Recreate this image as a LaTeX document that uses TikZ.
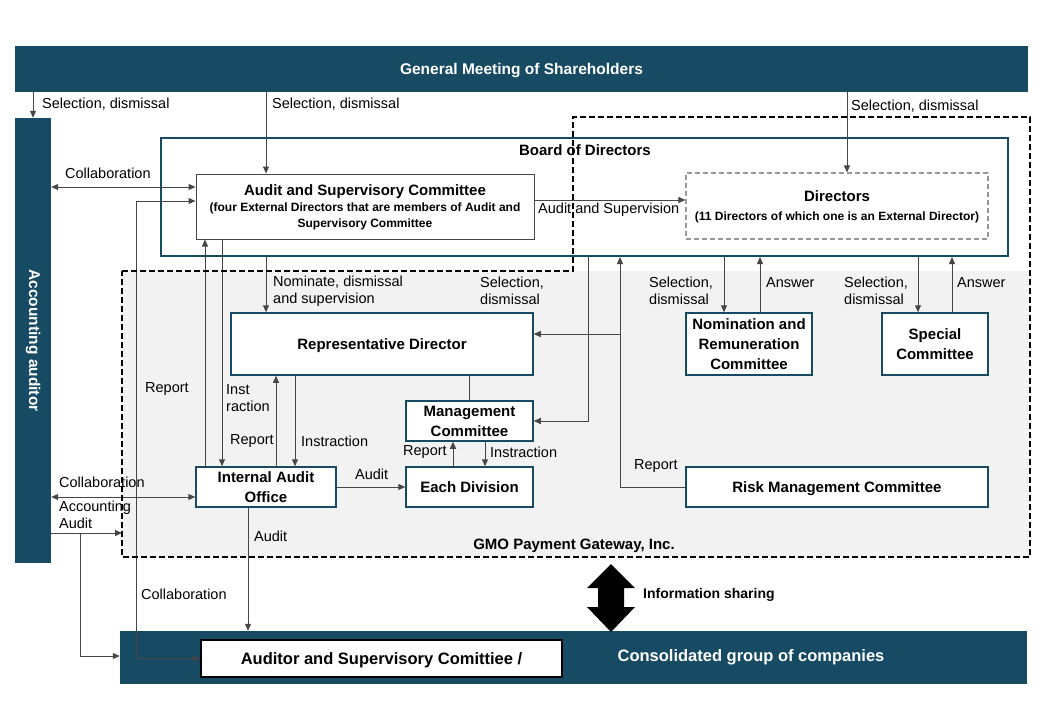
\documentclass[tikz,border=0pt]{standalone}
\usepackage{fontspec}
\setmainfont{Liberation Sans}
\usetikzlibrary{arrows.meta}

\definecolor{gmoteal}{RGB}{23,74,99}
\definecolor{gmogray}{RGB}{242,242,242}
\definecolor{linegray}{RGB}{70,70,70}

\begin{document}
\begin{tikzpicture}[x=1pt, y=-1pt,
    bar/.style = {fill=gmoteal, text=white, inner sep=0pt, text depth=0pt,
        font=\bfseries\fontsize{15.5}{18}\selectfont},
    unit/.style = {draw=gmoteal, line width=1.5pt, fill=white, align=center,
        inner sep=0pt, text depth=0pt, font=\bfseries\fontsize{15}{20}\selectfont},
    lbl/.style = {anchor=west, inner sep=0pt, align=left,
        font=\fontsize{14.5}{17}\selectfont},
    conn/.style = {draw=linegray, line width=1pt,
        -{Triangle[length=7pt,width=6pt]}},
    both/.style = {draw=linegray, line width=1pt,
        {Triangle[length=7pt,width=6pt]}-{Triangle[length=7pt,width=6pt]}}
    ]

        \useasboundingbox (0,0) rectangle (1061,716);

        % Coordinates for the connector positions.
        \coordinate (xasc) at (266,0);
        \coordinate (xdir) at (847,0);
        \coordinate (ycol) at (0,187);
        \coordinate (ylink) at (0,201);
        \coordinate (xlink) at (136,0);
        \coordinate (xrep) at (205,0);
        \coordinate (xins) at (222,0);
        \coordinate (yaud) at (0,200);
        \coordinate (xrisk) at (620,0);
        \coordinate (yrep) at (0,334);
        \coordinate (xmgmt) at (588,0);
        \coordinate (xup) at (276,0);
        \coordinate (xdown) at (295,0);
        \coordinate (xrpt) at (453,0);
        \coordinate (xord) at (485,0);
        \coordinate (xnrcdn) at (724,0);
        \coordinate (xnrcup) at (760,0);
        \coordinate (xspcdn) at (918,0);
        \coordinate (xspcup) at (952,0);
        \coordinate (ycol2) at (0,497);
        \coordinate (gmoleft) at (122,533);
        \coordinate (xacc) at (80,0);
        \coordinate (ygrp) at (0,656);
        \coordinate (xiaud) at (248,0);

        % The company area.
        \fill[gmogray] (122,271) rectangle (1030,557);

        % Bars.
        \node[bar, minimum width=1013, minimum height=46] (shareholders)
            at (521.5,69) {General Meeting of Shareholders};
        \node[fill=gmoteal, text=white, inner sep=0pt,
            font=\bfseries\fontsize{15.5}{18}\selectfont,
            minimum width=36, minimum height=445] (accounting)
            at (33,340.5) {\rotatebox{-90}{Accounting auditor}};
        \node[bar, minimum width=907, minimum height=53] (group)
            at (573.5,657.5) {};
        \node[text=white, inner sep=0pt, text depth=0pt,
            font=\bfseries\fontsize{16.5}{19}\selectfont]
            (grouptext) at (751,656) {Consolidated group of companies};
        \node[draw=black, line width=2pt, fill=white, inner sep=0pt, text depth=0pt,
            minimum width=361, minimum height=37,
            font=\bfseries\fontsize{16.5}{19}\selectfont] (groupaudit)
            at (381.5,658.5) {Auditor and Supervisory Comittiee /};

        % Board of Directors.
        \node[draw=gmoteal, line width=2pt, minimum width=847, minimum height=118]
            (board) at (584.5,197) {};
        \node[inner sep=0pt, text depth=0pt, font=\bfseries\fontsize{15}{18}\selectfont]
            (boardtitle) at (585,150) {Board of Directors};
        \node[draw=linegray, line width=1pt, fill=white, align=center, inner sep=0pt,
            text depth=0pt, minimum width=338, minimum height=65,
            font=\bfseries\fontsize{12}{16}\selectfont] (asc) at (365,206.5)
            {{\fontsize{15}{18}\selectfont Audit and Supervisory Committee}\\
             (four External Directors that are members of Audit and\\
             Supervisory Committee};
        \node[draw=black!40, line width=1.2pt, dash pattern=on 5pt off 3pt,
            fill=white, align=center, inner sep=0pt, text depth=0pt,
            minimum width=302, minimum height=66,
            font=\bfseries\fontsize{12}{19}\selectfont] (directors) at (837,206)
            {{\fontsize{15}{18}\selectfont Directors}\\
             (11 Directors of which one is an External Director)};

        % Units of the company.
        \node[unit, minimum width=302, minimum height=62] (rep) at (382,344)
            {Representative Director};
        \node[unit, minimum width=126, minimum height=62] (nrc) at (749,344)
            {Nomination and\\Remuneration\\Committee};
        \node[unit, minimum width=106, minimum height=62] (spc) at (935,344)
            {Special\\Committee};
        \node[unit, minimum width=127, minimum height=40] (mgmt) at (469.5,421)
            {Management\\Committee};
        \node[unit, minimum width=127, minimum height=40] (div) at (469.5,487)
            {Each Division};
        \node[unit, minimum width=140, minimum height=40] (iao) at (266,487)
            {Internal Audit\\Office};
        \node[unit, minimum width=302, minimum height=40] (risk) at (837,487)
            {Risk Management Committee};

        % Selection from the general meeting.
        \draw[conn] (shareholders.south -| accounting.north) -- (accounting.north);
        \draw[conn] (shareholders.south -| xasc) -- (asc.north -| xasc);
        \draw[conn] (shareholders.south -| xdir) -- (directors.north -| xdir);

        % Audit and Supervisory Committee links.
        \draw[both] (accounting.east |- ycol) -- (asc.west |- ycol);
        \draw[both] (asc.west |- ylink) -| (xlink |- groupaudit.west) -- (groupaudit.west);
        \draw[conn] (iao.north -| xrep) -- (asc.south -| xrep);
        \draw[conn] (asc.south -| xins) -- (iao.north -| xins);
        \draw[conn] (asc.east |- yaud) -- (directors.west |- yaud);

        % Board to the units.
        \draw[conn] (board.south -| xasc) -- (rep.north -| xasc);
        \draw[conn] (risk.west) -| (board.south -| xrisk);
        \draw[conn] (xrisk |- yrep) -- (rep.east |- yrep);
        \draw[conn] (board.south -| xmgmt) |- (mgmt.east);
        \draw[conn] (board.south -| xnrcdn) -- (nrc.north -| xnrcdn);
        \draw[conn] (nrc.north -| xnrcup) -- (board.south -| xnrcup);
        \draw[conn] (board.south -| xspcdn) -- (spc.north -| xspcdn);
        \draw[conn] (spc.north -| xspcup) -- (board.south -| xspcup);

        % Inside the company.
        \draw[draw=linegray, line width=1pt] (rep.south -| mgmt.north) -- (mgmt.north);
        \draw[conn] (iao.north -| xup) -- (rep.south -| xup);
        \draw[conn] (rep.south -| xdown) -- (iao.north -| xdown);
        \draw[conn] (iao.east) -- (div.west);
        \draw[conn] (div.north -| xrpt) -- (mgmt.south -| xrpt);
        \draw[conn] (mgmt.south -| xord) -- (div.north -| xord);

        % Accounting auditor and the group.
        \draw[both] (accounting.east |- ycol2) -- (iao.west |- ycol2);
        \draw[conn] (accounting.east |- gmoleft) -- (gmoleft);
        \draw[conn] (xacc |- gmoleft) |- (group.west |- ygrp);
        \draw[conn] (iao.south -| xiaud) -- (group.north -| xiaud);

        % Information sharing arrow.
        \fill[black] (611,564) -- (635,588) -- (624,588) -- (624,607) -- (635,607)
            -- (611,632) -- (587,607) -- (598,607) -- (598,588) -- (587,588) -- cycle;

        % The company outline.
        \draw[black, line width=2pt, dash pattern=on 6pt off 3pt]
            (122,271) -- (573,271) -- (573,117) -- (1030,117) -- (1030,557)
            -- (122,557) -- cycle;
        \node[inner sep=0pt, text depth=0pt, font=\bfseries\fontsize{15}{18}\selectfont]
            (gmolabel) at (574,544) {GMO Payment Gateway, Inc.};

        % Label everything.
        \node[lbl] (selacc) at (42,104) {Selection, dismissal};
        \node[lbl] (selasc) at (272,104) {Selection, dismissal};
        \node[lbl] (seldir) at (851,106) {Selection, dismissal};
        \node[lbl] (colasc) at (65,173) {Collaboration};
        \node[lbl] (colgrp) at (141,594) {Collaboration};
        \node[lbl] (rptasc) at (145,389) {Report};
        \node[lbl] (insasc) at (226,398) {Inst\\raction};
        \node[lbl] (nomrep) at (273,291) {Nominate, dismissal\\and supervision};
        \node[lbl] (auddir) at (538,210) {Audit and Supervision};
        \node[lbl] (selrep) at (480,291) {Selection,\\dismissal};
        \node[lbl] (rptrisk) at (634,466) {Report};
        \node[lbl] (rptrep) at (230,441) {Report};
        \node[lbl] (insiao) at (301,441) {Instraction};
        \node[lbl] (auddiv) at (355,474) {Audit};
        \node[lbl] (rptdiv) at (403,452) {Report};
        \node[lbl] (insdiv) at (490,452) {Instraction};
        \node[lbl] (selnrc) at (649,291) {Selection,\\dismissal};
        \node[lbl] (ansnrc) at (766,283) {Answer};
        \node[lbl] (selspc) at (844,291) {Selection,\\dismissal};
        \node[lbl] (ansspc) at (957,283) {Answer};
        \node[lbl] (coliao) at (59,482) {Collaboration};
        \node[lbl] (accaud) at (59,515) {Accounting\\Audit};
        \node[lbl] (audgrp) at (254,536) {Audit};
        \node[lbl, font=\bfseries\fontsize{14}{17}\selectfont] (infoshare)
            at (643,595) {Information sharing};
    \end{tikzpicture}
\end{document}
